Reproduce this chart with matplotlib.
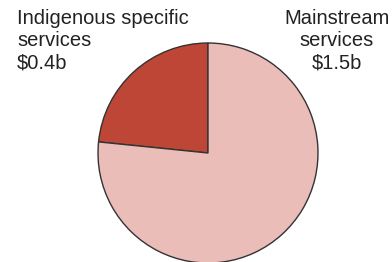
import matplotlib
matplotlib.use("Agg")
import matplotlib.pyplot as plt

# spending split (slice sizes; labels as printed)
segments = ["Indigenous specific\nservices\n$0.4b", "Mainstream\nservices\n$1.5b"]
spend = [0.455, 1.49]
colors = ["#BE4636", "#EBBDB8"]

plt.rcParams["font.family"] = ["Liberation Sans", "DejaVu Sans"]

W, H = 392, 262
fig = plt.figure(figsize=(W / 100, H / 100), dpi=100)
ax = fig.add_axes([0, 0, 1, 1])

ax.pie(spend, colors=colors, startangle=90, counterclock=True,
       center=(208, H - 153), radius=110, frame=True,
       wedgeprops=dict(edgecolor="#333333", linewidth=1.0))
ax.set_xlim(0, W)
ax.set_ylim(0, H)
ax.set_aspect("equal")
ax.axis("off")

ax.text(17, H - 9, segments[0], ha="left", va="top", fontsize=14.5,
        color="#222222", linespacing=1.2)
ax.text(337, H - 9, segments[1], ha="center", va="top", fontsize=14.5,
        color="#222222", linespacing=1.2)

fig.savefig("out.png", dpi=100)
